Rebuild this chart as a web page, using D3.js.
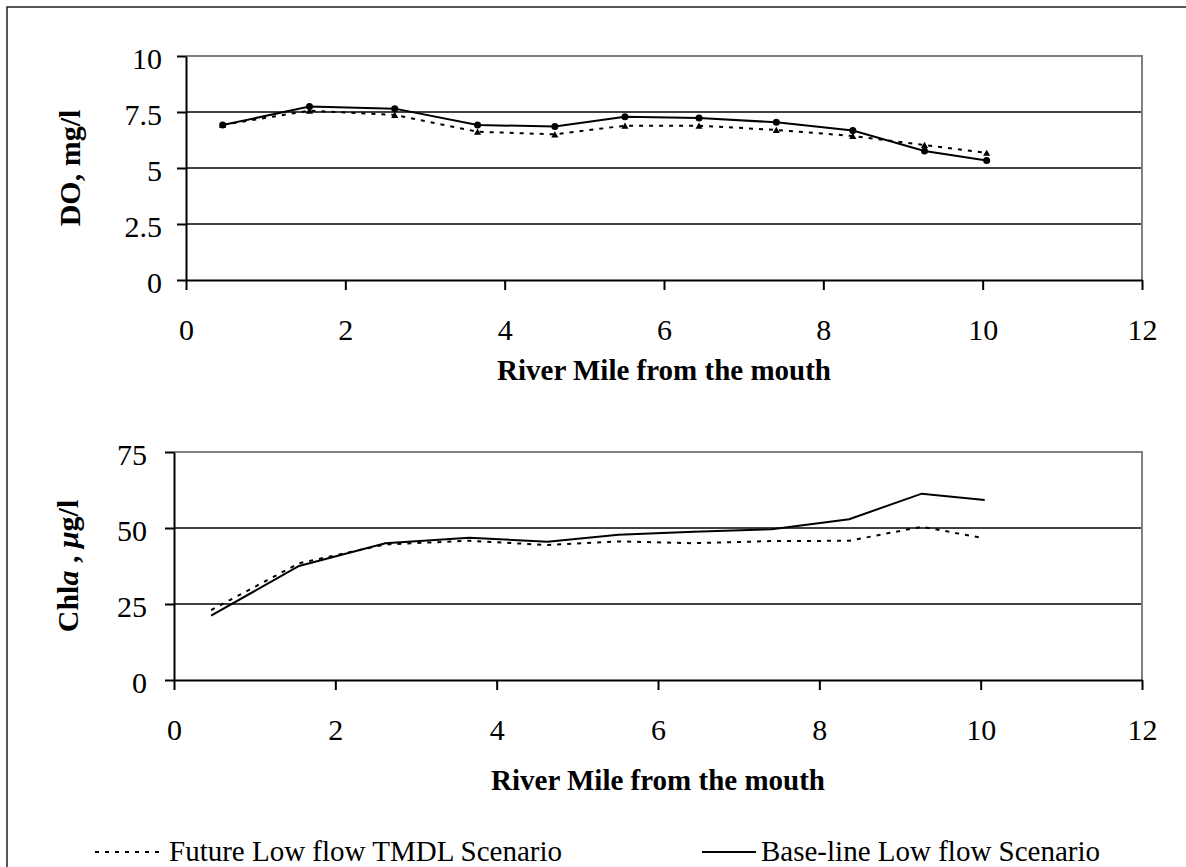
<!DOCTYPE html>
<html>
<head>
<meta charset="utf-8">
<script src="https://cdn.jsdelivr.net/npm/d3@7"></script>
<style>
  body { margin: 0; background: #fff; }
  text { font-family: "Liberation Serif", "Times New Roman", serif; fill: #000; }
</style>
</head>
<body>
<svg id="chart"></svg>
<script>
// data
const riverMile = [0.46, 1.55, 2.62, 3.66, 4.63, 5.51, 6.44, 7.41, 8.37, 9.27, 10.05];
const doBase = [6.92, 7.74, 7.65, 6.92, 6.85, 7.29, 7.23, 7.04, 6.67, 5.76, 5.33];
const doFuture = [6.92, 7.56, 7.37, 6.62, 6.50, 6.89, 6.89, 6.70, 6.43, 6.03, 5.68];
const chlBase = [21.2, 37.5, 45.0, 46.8, 45.5, 47.8, 48.8, 49.6, 52.9, 61.3, 59.2];
const chlFuture = [23.0, 38.4, 44.6, 45.8, 44.4, 45.6, 45.0, 45.7, 45.8, 50.4, 46.6];

const mileTicks = [0, 2, 4, 6, 8, 10, 12];
const doTicks = [0, 2.5, 5, 7.5, 10];
const chlTicks = [0, 25, 50, 75];

const xTitle = "River Mile from the mouth";
const legendNames = ["Future Low flow TMDL Scenario", "Base-line Low flow Scenario"];

const svg = d3.select("#chart")
    .attr("width", 1186)
    .attr("height", 867);

// outer frame
svg.append("rect")
    .attr("x", 7).attr("y", 7)
    .attr("width", 1200).attr("height", 900)
    .attr("fill", "none")
    .attr("stroke", "#222")
    .attr("stroke-width", 1.5);

const dotted = "4,6";

function drawPanel(p) {
    const x = d3.scaleLinear().domain([0, 12]).range([p.left, p.right]);
    const y = d3.scaleLinear().domain([0, p.yTicks[p.yTicks.length - 1]]).range([p.bottom, p.top]);

    const g = svg.append("g");

    // horizontal grid lines
    g.selectAll("line.grid")
        .data(p.yTicks.slice(1, -1))
        .enter()
        .append("line")
        .attr("x1", p.left).attr("x2", p.right)
        .attr("y1", d => y(d)).attr("y2", d => y(d))
        .attr("stroke", "#000")
        .attr("stroke-width", 1.3);

    // grey plot border on top and right
    g.append("path")
        .attr("d", `M${p.left},${p.top}H${p.right}V${p.bottom}`)
        .attr("fill", "none")
        .attr("stroke", "#808080")
        .attr("stroke-width", 2);

    const xAxis = d3.axisBottom(x).tickValues(mileTicks).tickSize(10).tickSizeOuter(0)
        .tickFormat(d => d);
    const yAxis = d3.axisLeft(y).tickValues(p.yTicks).tickSize(9).tickSizeOuter(0)
        .tickFormat(d => d);

    const xAxisGroup = g.append("g")
        .attr("transform", `translate(0, ${p.bottom})`)
        .call(xAxis);
    const yAxisGroup = g.append("g")
        .attr("transform", `translate(${p.left}, 0)`)
        .call(yAxis);

    [xAxisGroup, yAxisGroup].forEach(a => {
        a.attr("font-family", null);
        a.select(".domain").attr("stroke", "#000").attr("stroke-width", 2);
        a.selectAll(".tick line").attr("stroke", "#000").attr("stroke-width", 2);
        a.selectAll("text")
            .attr("font-size", 30)
            .attr("fill", "#000");
    });

    xAxisGroup.selectAll("text").attr("y", 60).attr("dy", 0);
    yAxisGroup.selectAll("text").attr("x", -p.labelGap).attr("dy", "0.42em");

    // x title
    g.append("text")
        .attr("x", (p.left + p.right) / 2)
        .attr("y", p.xTitleY)
        .attr("text-anchor", "middle")
        .attr("font-size", 29)
        .attr("font-weight", "bold")
        .text(xTitle);

    // y title
    const yt = g.append("text")
        .attr("transform", `translate(${p.yTitleX}, ${(p.top + p.bottom) / 2}) rotate(-90)`)
        .attr("text-anchor", "middle")
        .attr("font-size", 30)
        .attr("font-weight", "bold");
    p.yTitle.forEach(part => {
        yt.append("tspan")
            .attr("font-style", part.italic ? "italic" : "normal")
            .text(part.t);
    });

    const line = d3.line()
        .x((d, i) => x(riverMile[i]))
        .y(d => y(d));

    g.append("path")
        .datum(p.future)
        .attr("d", line)
        .attr("fill", "none")
        .attr("stroke", "#000")
        .attr("stroke-width", 2)
        .attr("stroke-dasharray", dotted);

    g.append("path")
        .datum(p.base)
        .attr("d", line)
        .attr("fill", "none")
        .attr("stroke", "#000")
        .attr("stroke-width", 2);

    if (p.markers) {
        g.selectAll("path.tri")
            .data(p.future)
            .enter()
            .append("path")
            .attr("class", "tri")
            .attr("d", d3.symbol(d3.symbolTriangle, 22))
            .attr("transform", (d, i) => `translate(${x(riverMile[i])}, ${y(d) + 1})`)
            .attr("fill", "#000");

        g.selectAll("circle.pt")
            .data(p.base)
            .enter()
            .append("circle")
            .attr("class", "pt")
            .attr("cx", (d, i) => x(riverMile[i]))
            .attr("cy", d => y(d))
            .attr("r", 3.5)
            .attr("fill", "#000");
    }
}

// top: DO
drawPanel({
    left: 186, right: 1142, top: 56, bottom: 280,
    yTicks: doTicks, base: doBase, future: doFuture, markers: true,
    labelGap: 24, xTitleY: 380, yTitleX: 80,
    yTitle: [{ t: "DO,  mg/l" }]
});

// bottom: Chl a
drawPanel({
    left: 174, right: 1142, top: 452, bottom: 680,
    yTicks: chlTicks, base: chlBase, future: chlFuture, markers: false,
    labelGap: 27, xTitleY: 790, yTitleX: 78,
    yTitle: [{ t: "Chl" }, { t: "a", italic: true }, { t: " ,  " }, { t: "μ", italic: true }, { t: "g/l" }]
});

// legend
const legend = svg.append("g");
const legendItems = [
    { name: legendNames[0], x1: 95, x2: 164, dash: dotted },
    { name: legendNames[1], x1: 702, x2: 756, dash: null }
];
legendItems.forEach(item => {
    legend.append("line")
        .attr("x1", item.x1).attr("x2", item.x2)
        .attr("y1", 852).attr("y2", 852)
        .attr("stroke", "#000")
        .attr("stroke-width", 2)
        .attr("stroke-dasharray", item.dash);
    legend.append("text")
        .attr("x", item.x2 + 5)
        .attr("y", 861)
        .attr("font-size", 29)
        .text(item.name);
});
</script>
</body>
</html>
